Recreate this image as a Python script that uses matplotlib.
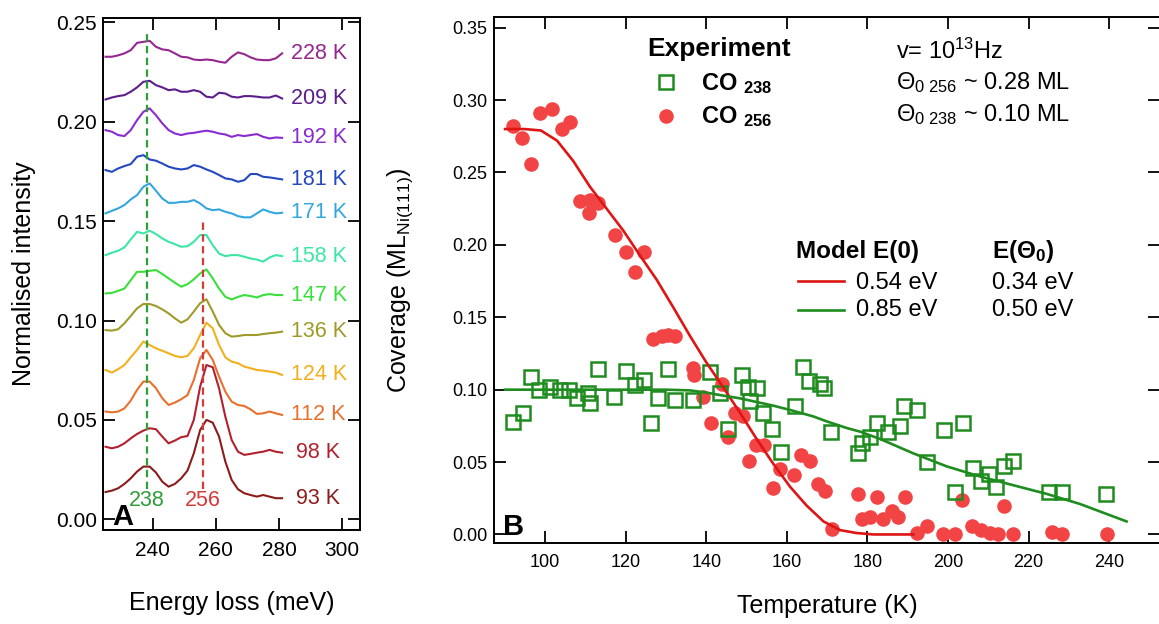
import numpy as np
import matplotlib.pyplot as plt
from matplotlib.lines import Line2D

plt.rcParams['font.family'] = ['Liberation Sans', 'DejaVu Sans']
plt.rcParams['mathtext.fontset'] = 'custom'
plt.rcParams['mathtext.rm'] = 'Liberation Sans'
plt.rcParams['mathtext.bf'] = 'Liberation Sans:bold'
plt.rcParams['mathtext.it'] = 'Liberation Sans:italic'

# ---------------- panel A: stacked EELS spectra ----------------
energy = [225, 227, 229, 231, 233, 235, 237, 239, 241, 243, 245, 247, 249, 251, 253,
          255, 257, 259, 261, 263, 265, 267, 269, 271, 273, 275, 277, 279, 281]

# normalised intensity (x 1e-3), already offset as drawn
spec_228 = [232.7, 232.7, 233.4, 234.4, 236.0, 239.7, 240.2, 240.7, 237.7, 236.4, 236.0, 234.4, 232.7, 232.4, 231.3,
            231.0, 231.3, 231.0, 230.2, 229.7, 232.7, 234.9, 234.0, 232.4, 231.3, 231.0, 231.0, 231.9, 234.4]
spec_209 = [211.2, 212.2, 212.9, 213.4, 215.1, 217.3, 220.1, 220.6, 218.4, 217.3, 215.9, 216.3, 215.1, 215.1, 215.9,
            215.1, 212.6, 212.2, 214.6, 214.2, 212.6, 212.2, 212.9, 212.9, 212.6, 212.2, 212.2, 213.2, 211.7]
spec_192 = [195.8, 195.0, 193.3, 192.8, 195.8, 200.8, 205.0, 206.7, 203.3, 199.2, 195.8, 194.1, 193.3, 194.1, 194.4,
            195.0, 195.5, 195.0, 194.1, 193.6, 192.4, 193.3, 192.8, 193.3, 193.8, 192.4, 191.6, 192.1, 191.9]
spec_181 = [175.7, 174.8, 176.5, 177.7, 178.7, 182.4, 183.2, 181.0, 180.4, 179.0, 177.4, 176.5, 176.0, 176.5, 178.2,
            177.4, 176.0, 174.8, 173.2, 171.5, 171.0, 169.8, 170.6, 173.7, 173.7, 172.3, 172.0, 171.5, 171.0]
spec_171 = [153.9, 155.2, 156.4, 158.1, 160.9, 163.1, 167.3, 169.0, 165.3, 161.4, 159.2, 159.2, 159.7, 159.7, 160.6,
            158.9, 156.4, 155.5, 155.9, 154.7, 153.9, 152.5, 151.9, 151.9, 153.9, 155.9, 154.7, 153.9, 154.2]
spec_158 = [132.9, 134.1, 135.1, 136.8, 140.8, 144.6, 143.8, 145.2, 143.5, 141.3, 139.6, 138.4, 137.1, 137.4, 139.6,
            143.0, 143.0, 137.9, 133.7, 132.4, 132.9, 132.9, 132.1, 131.2, 130.7, 129.6, 131.7, 132.9, 132.4]
spec_147 = [113.6, 113.9, 114.9, 116.1, 120.3, 124.5, 124.5, 125.0, 125.4, 123.4, 121.2, 119.0, 117.0, 118.3, 120.7,
            123.7, 125.7, 121.2, 116.1, 111.9, 110.6, 111.9, 112.8, 112.3, 111.6, 112.8, 113.3, 112.8, 112.8]
spec_136 = [95.2, 94.9, 95.6, 98.6, 102.3, 106.1, 108.3, 108.3, 107.3, 105.6, 103.6, 101.1, 98.9, 100.6, 104.5,
            108.7, 110.7, 104.5, 97.8, 93.6, 91.9, 92.2, 92.7, 92.7, 92.7, 93.2, 93.6, 93.9, 94.4]
spec_124 = [75.1, 73.8, 75.5, 77.6, 81.5, 85.2, 89.4, 87.7, 86.0, 84.8, 83.5, 82.2, 81.5, 82.2, 86.0,
            92.7, 98.9, 96.1, 87.7, 81.5, 79.3, 78.5, 76.8, 76.0, 75.1, 74.8, 74.3, 73.8, 72.6]
spec_112 = [54.2, 53.8, 54.2, 55.8, 59.7, 65.1, 69.3, 69.3, 65.9, 60.9, 57.5, 58.7, 60.4, 62.5, 70.1,
            81.0, 85.2, 80.2, 71.8, 64.2, 59.2, 57.5, 57.0, 55.3, 53.0, 53.3, 54.2, 53.3, 52.5]
spec_98 = [36.5, 35.7, 36.5, 38.2, 40.7, 42.9, 44.6, 45.8, 45.3, 41.6, 38.2, 39.6, 41.3, 41.9, 50.0,
           66.7, 77.6, 76.5, 65.9, 51.6, 39.9, 34.0, 32.4, 32.9, 33.5, 34.0, 34.9, 34.0, 33.5]
spec_93 = [13.7, 14.4, 15.6, 17.8, 20.6, 24.0, 26.5, 26.5, 23.5, 18.9, 16.4, 17.8, 20.6, 24.5, 33.2,
           44.9, 50.0, 48.6, 41.6, 29.0, 19.8, 15.1, 13.1, 12.2, 11.4, 12.2, 11.4, 10.6, 10.6]

temps_a = [228, 209, 192, 181, 171, 158, 147, 136, 124, 112, 98, 93]
spectra = [spec_228, spec_209, spec_192, spec_181, spec_171, spec_158,
           spec_147, spec_136, spec_124, spec_112, spec_98, spec_93]
colors_a = ['#95278F', '#5C1E8C', '#8A2BD0', '#2448C0', '#34A6E0', '#3CE6A5',
            '#3AE03A', '#A09A28', '#F2B01E', '#E8702C', '#B3202E', '#8C1C1C']

peak_low = 238
peak_high = 256

# ---------------- panel B: coverage vs temperature ----------------
t_256 = [92.0, 94.4, 96.5, 98.8, 101.7, 104.1, 106.2, 108.7, 111.2, 110.8, 113.2, 117.4, 120.1, 122.3, 124.6,
         126.9, 129.0, 130.6, 132.3, 136.8, 137.0, 139.3, 141.1, 143.8, 145.3, 147.1, 149.2, 150.6, 152.3, 154.4,
         156.6, 158.3, 161.8, 163.5, 165.8, 167.8, 169.5, 171.3, 177.7, 178.6, 180.6, 182.3, 183.9, 186.0, 187.7,
         189.3, 192.2, 194.9, 198.8, 201.7, 203.5, 206.0, 208.3, 210.4, 212.3, 213.8, 216.2, 225.7, 228.4, 239.4]
cov_256 = [0.282, 0.274, 0.256, 0.291, 0.294, 0.280, 0.285, 0.230, 0.231, 0.222, 0.229, 0.207, 0.195, 0.181, 0.195,
           0.135, 0.137, 0.138, 0.137, 0.115, 0.110, 0.095, 0.077, 0.104, 0.067, 0.084, 0.082, 0.051, 0.062, 0.062,
           0.032, 0.045, 0.041, 0.055, 0.051, 0.035, 0.030, 0.004, 0.028, 0.011, 0.012, 0.026, 0.011, 0.016, 0.012,
           0.026, 0.001, 0.006, 0.000, 0.000, 0.024, 0.006, 0.003, 0.001, 0.000, 0.020, 0.000, 0.002, 0.000, 0.000]

t_238 = [92.0, 94.5, 96.5, 98.5, 101.2, 103.7, 106.0, 107.9, 110.6, 111.2, 113.1, 117.1, 120.1, 122.3, 124.6,
         126.3, 128.1, 130.4, 132.3, 136.8, 140.9, 143.4, 145.5, 148.8, 150.4, 150.9, 152.5, 154.2, 156.3, 158.5,
         162.0, 164.1, 165.5, 168.2, 169.3, 171.0, 177.7, 178.6, 180.6, 182.3, 185.0, 188.0, 189.2, 192.3, 194.8,
         198.9, 201.7, 203.6, 206.3, 208.2, 210.2, 211.8, 213.8, 216.2, 225.0, 228.2, 239.3]
cov_238 = [0.078, 0.084, 0.109, 0.100, 0.102, 0.100, 0.100, 0.094, 0.098, 0.091, 0.114, 0.095, 0.113, 0.103, 0.107,
           0.077, 0.094, 0.114, 0.093, 0.093, 0.112, 0.098, 0.073, 0.110, 0.102, 0.092, 0.101, 0.084, 0.073, 0.057,
           0.089, 0.116, 0.106, 0.104, 0.101, 0.071, 0.056, 0.063, 0.067, 0.077, 0.071, 0.075, 0.089, 0.086, 0.050,
           0.072, 0.029, 0.077, 0.046, 0.037, 0.042, 0.033, 0.047, 0.051, 0.029, 0.029, 0.028]

model_t_054 = [90.1, 95.0, 99.0, 103.0, 107.0, 111.2, 115.3, 119.4, 123.5, 127.7, 131.8, 136.0, 140.0, 143.4,
               148.4, 152.5, 156.6, 160.8, 164.9, 169.1, 173.2, 177.3, 181.5, 191.4]
model_c_054 = [0.280, 0.280, 0.279, 0.272, 0.258, 0.240, 0.225, 0.210, 0.193, 0.176, 0.157, 0.137, 0.119, 0.105,
               0.084, 0.066, 0.049, 0.033, 0.020, 0.009, 0.003, 0.001, 0.000, 0.000]

model_t_085 = [90.1, 100.0, 110.0, 120.0, 130.0, 136.0, 140.0, 144.0, 148.4, 152.5, 156.6, 160.8, 166.6, 170.0,
               174.9, 178.2, 183.1, 191.4, 199.7, 208.0, 216.2, 224.5, 232.8, 244.3]
model_c_085 = [0.100, 0.100, 0.100, 0.100, 0.100, 0.0995, 0.098, 0.096, 0.094, 0.0915, 0.089, 0.086, 0.0815, 0.078,
               0.0735, 0.071, 0.066, 0.056, 0.047, 0.040, 0.034, 0.028, 0.021, 0.009]

red_pt = '#F24444'
red_ln = '#DD1515'
green = '#1E8C1E'

fig = plt.figure(figsize=(11.59, 6.24), dpi=100)
W, H = 1159.0, 624.0

# ----- panel A -----
axa = fig.add_axes([103 / W, 1 - 530 / H, 257 / W, 512 / H])
for T, s, c in zip(temps_a, spectra, colors_a):
    y = np.array(s) * 1e-3
    axa.plot(energy, y, color=c, lw=1.5)
    lx = 283.9 if T >= 100 else 285.5
    axa.text(lx, y[-1], f'{T} K', color=c, fontsize=15.5, va='center', ha='left')

axa.plot([peak_low, peak_low], [0.015, 0.244], color='#2E9E3A', lw=1.6, dashes=(3.3, 2))
axa.plot([peak_high, peak_high], [0.015, 0.150], color='#D43A3A', lw=1.6, dashes=(3.3, 2))
axa.text(peak_low, 0.0095, str(peak_low), color='#2E9E3A', fontsize=15.5, ha='center', va='center')
axa.text(peak_high, 0.0095, str(peak_high), color='#D43A3A', fontsize=15.5, ha='center', va='center')
axa.text(0.035, 0.01, 'A', transform=axa.transAxes, fontsize=21, fontweight='bold', va='baseline')

axa.set_xlim(224.2, 305.7)
axa.set_ylim(-0.0054, 0.2522)
axa.set_xticks([240, 260, 280, 300])
axa.set_yticks([0.0, 0.05, 0.10, 0.15, 0.20, 0.25])
axa.yaxis.set_major_formatter(plt.FormatStrFormatter('%.2f'))
axa.tick_params(direction='in', length=8.5, width=1.3, top=True, right=True, labelsize=15)
axa.tick_params(axis='x', pad=8)
axa.tick_params(axis='y', pad=4.5)
for sp in axa.spines.values():
    sp.set_linewidth(1.4)
axa.set_xlabel('Energy loss (meV)', fontsize=18, labelpad=22)
axa.set_ylabel('Normalised intensity', fontsize=18, labelpad=14)

# ----- panel B -----
axb = fig.add_axes([494 / W, 1 - 543 / H, 666 / W, 526 / H])
axb.plot(t_256, cov_256, 'o', ms=10.5, color=red_pt, mec='none')
axb.plot(t_238, cov_238, 's', ms=9.5, mfc='none', mec=green, mew=1.8)
axb.plot(model_t_054, model_c_054, color=red_ln, lw=1.9)
axb.plot(model_t_085, model_c_085, color=green, lw=1.9)

axb.set_xlim(87.35, 252.6)
axb.set_ylim(-0.0059, 0.3574)
axb.set_xticks([100, 120, 140, 160, 180, 200, 220, 240])
axb.set_yticks([0.0, 0.05, 0.10, 0.15, 0.20, 0.25, 0.30, 0.35])
axb.yaxis.set_major_formatter(plt.FormatStrFormatter('%.2f'))
axb.tick_params(direction='in', length=8.5, width=1.3, top=True, right=True, labelsize=13)
axb.tick_params(axis='x', pad=8)
axb.tick_params(axis='y', pad=5)
for sp in axb.spines.values():
    sp.set_linewidth(1.4)
axb.set_xlabel('Temperature (K)', fontsize=18, labelpad=16.5)
axb.set_ylabel(r'Coverage (ML$_{\mathrm{Ni(111)}}$)', fontsize=18)
axb.yaxis.set_label_coords(-0.118, 0.5)
axb.text(0.0135, 0.0152, 'B', transform=axb.transAxes, fontsize=21, fontweight='bold', va='baseline')

# legend / annotations (drawn by hand, as in the original)
tr = axb.transAxes
axb.text(0.2297, 0.939, 'Experiment', transform=tr, fontsize=19, fontweight='bold', va='center')
axb.add_line(Line2D([0.2578], [0.877], transform=tr, marker='s', ms=9.5, mfc='none', mec=green, mew=1.8))
axb.add_line(Line2D([0.2578], [0.8118], transform=tr, marker='o', ms=10.5, color=red_pt, mec='none'))
axb.text(0.3108, 0.861, r'CO $_{\mathbf{238}}$', transform=tr, fontsize=17, fontweight='bold', va='baseline')
axb.text(0.3108, 0.798, r'CO $_{\mathbf{256}}$', transform=tr, fontsize=17, fontweight='bold', va='baseline')

axb.text(0.6036, 0.9196, r'v= 10$^{13}$Hz', transform=tr, fontsize=17, va='baseline')
axb.text(0.6036, 0.8625, r'$\Theta_{0\ 256}$ ~ 0.28 ML', transform=tr, fontsize=17, va='baseline')
axb.text(0.6036, 0.8029, r'$\Theta_{0\ 238}$ ~ 0.10 ML', transform=tr, fontsize=17, va='baseline')

axb.text(0.4535, 0.5412, 'Model E(0)', transform=tr, fontsize=17.5, fontweight='bold', va='baseline')
axb.text(0.7473, 0.5412, r'E($\mathbf{\Theta_{0}}$)', transform=tr, fontsize=17.5, fontweight='bold', va='baseline')
axb.add_line(Line2D([0.4565, 0.5255], [0.4981, 0.4981], transform=tr, color=red_ln, lw=1.9))
axb.add_line(Line2D([0.4565, 0.5255], [0.443, 0.443], transform=tr, color=green, lw=1.9))
axb.text(0.5431, 0.4823, '0.54 eV', transform=tr, fontsize=17, va='baseline')
axb.text(0.7473, 0.4823, '0.34 eV', transform=tr, fontsize=17, va='baseline')
axb.text(0.5431, 0.4316, '0.85 eV', transform=tr, fontsize=17, va='baseline')
axb.text(0.7473, 0.4316, '0.50 eV', transform=tr, fontsize=17, va='baseline')

fig.savefig('out.png', dpi=100)
